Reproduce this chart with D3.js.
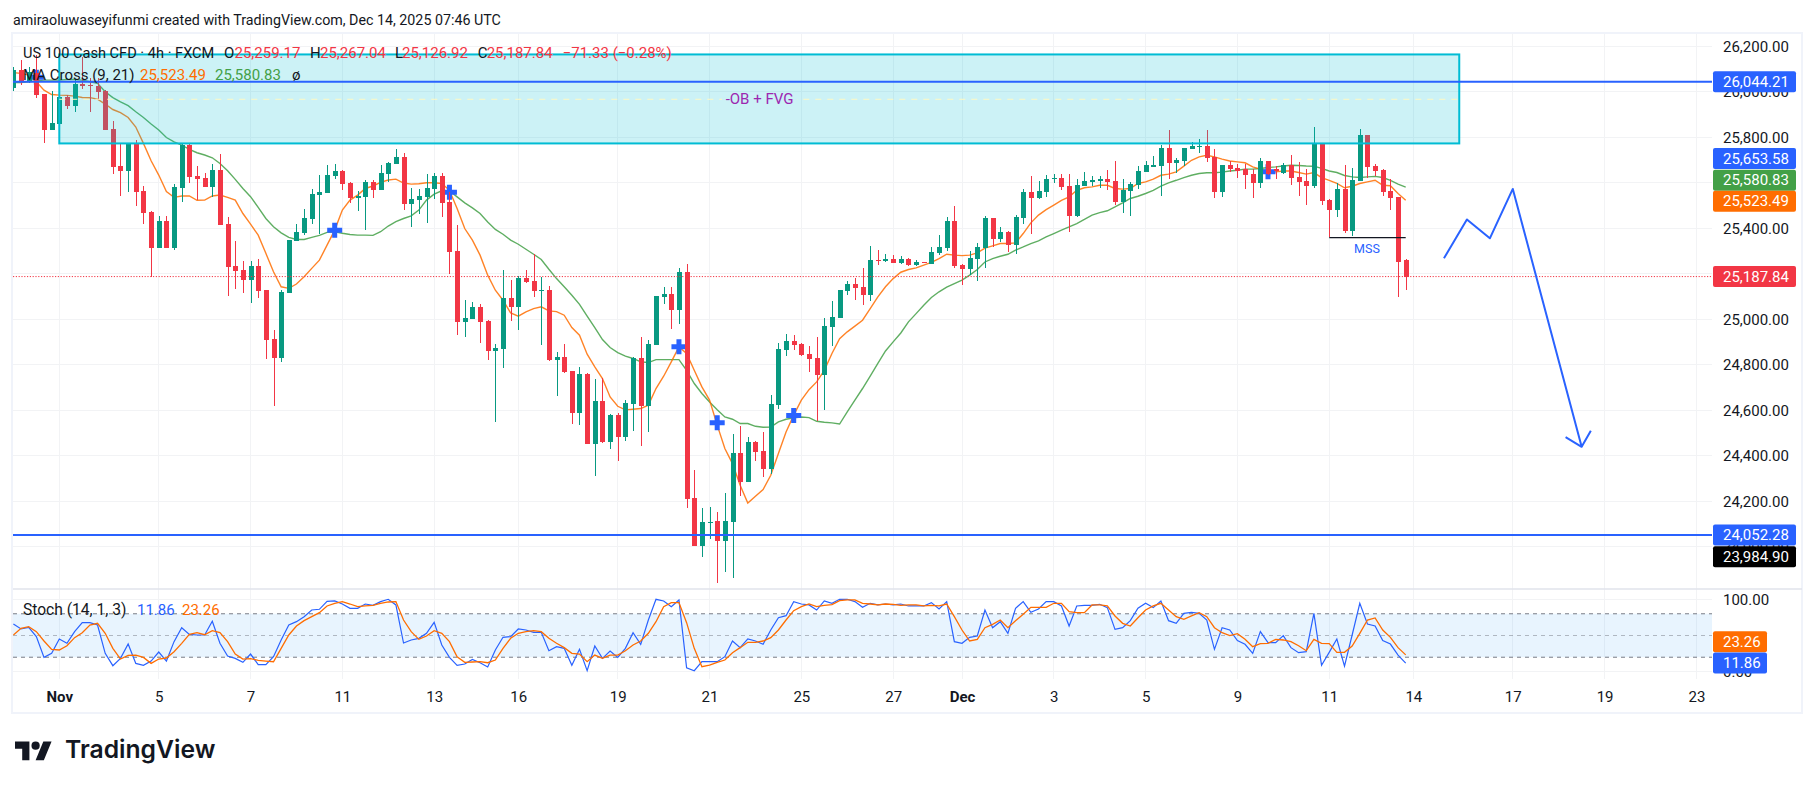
<!DOCTYPE html>
<html>
<head>
<meta charset="utf-8">
<script src="https://cdn.jsdelivr.net/npm/d3@7"></script>
<style>
  html, body { margin: 0; padding: 0; background: #fff; }
  svg { display: block; }
  text { font-family: Roboto, sans-serif; }
</style>
</head>
<body>
<svg id="chart" width="1815" height="789"></svg>
<script>
// candles run from bar -6 up to bar 176, bar 0 is the Nov tick
const firstBar = -6;

const opens = [26015,26095,26044,26081,25990,25832,
  25858,25975,25937,26034,26029,26025,26003,25836,25675,25651,
  25773,25564,25471,25314,25432,25314,25578,25764,25629,25621,
  25581,25656,25418,25234,25216,25175,25234,25128,24913,24830,
  25115,25344,25379,25441,25547,25556,25631,25651,25599,25534,
  25537,25603,25568,25638,25682,25713,25506,25524,25537,25572,
  25629,25515,25299,24989,25000,25053,24992,24860,24869,25093,
  25053,25181,25168,25125,25128,24820,24833,24772,24589,24759,
  24453,24640,24461,24579,24483,24627,24829,24618,24886,25097,
  25110,25040,25207,24214,24003,24108,24113,24025,24108,24412,
  24284,24460,24420,24341,24623,24864,24904,24891,24847,24829,
  24754,24965,25005,25124,25154,25141,25106,25260,25255,25264,
  25247,25264,25238,25251,25242,25291,25313,25431,25238,25220,
  25264,25313,25444,25352,25383,25326,25444,25559,25532,25559,
  25617,25620,25585,25453,25585,25603,25607,25616,25607,25515,
  25563,25589,25647,25671,25673,25752,25686,25695,25748,25758,
  25761,25712,25559,25677,25664,25660,25638,25598,25695,25660,
  25642,25677,25625,25607,25585,25774,25523,25480,25572,25387,
  25607,25809,25673,25655,25563,25537,25259.17];

const highs = [26110,26139,26110,26161,25990,26005,
  25985,25985,26051,26154,26059,26059,26007,25873,25773,25776,
  25788,25586,25477,25454,25454,25594,25773,25776,25675,25641,
  25682,25726,25448,25344,25256,25256,25263,25128,24953,25128,
  25348,25418,25483,25571,25634,25678,25682,25656,25603,25564,
  25612,25612,25678,25691,25748,25729,25575,25572,25638,25643,
  25643,25561,25414,25084,25075,25066,24996,24891,25216,25172,
  25189,25216,25289,25184,25145,24855,24891,24772,24790,24766,
  24737,24741,24583,24589,24645,24835,24921,24908,25102,25141,
  25141,25225,25242,24337,24170,24174,24152,24236,24495,24530,
  24482,24464,24504,24666,24895,24935,24930,24895,24882,24921,
  25005,25080,25128,25168,25181,25225,25321,25304,25286,25282,
  25277,25269,25260,25252,25317,25370,25449,25497,25242,25299,
  25335,25453,25444,25405,25387,25458,25572,25629,25607,25633,
  25638,25638,25638,25616,25647,25629,25629,25655,25695,25616,
  25603,25673,25695,25717,25765,25831,25708,25752,25778,25792,
  25831,25748,25677,25695,25682,25682,25660,25708,25695,25673,
  25686,25721,25691,25660,25844,25774,25528,25598,25677,25664,
  25836,25809,25682,25660,25616,25537,25267.04];

const lows = [26005,26029,26037,25971,25776,25832,
  25858,25925,25912,26010,25912,25963,25832,25638,25543,25561,
  25498,25418,25187,25314,25314,25304,25517,25600,25524,25580,
  25539,25416,25104,25134,25114,25073,25095,24825,24619,24812,
  25115,25344,25370,25418,25373,25556,25616,25568,25509,25476,
  25392,25533,25568,25602,25682,25480,25405,25462,25423,25528,
  25449,25199,24930,24923,25000,24896,24820,24548,24787,24992,
  24952,25159,25099,24886,24816,24662,24763,24539,24535,24453,
  24312,24455,24429,24376,24466,24508,24444,24505,24886,25066,
  24957,24978,24171,24003,23954,24034,23840,23889,23862,24223,
  24284,24376,24306,24319,24605,24838,24864,24838,24768,24552,
  24601,24882,25005,25106,25084,25062,25080,25238,25251,25247,
  25242,25233,25233,25246,25242,25282,25299,25225,25150,25194,
  25168,25225,25317,25339,25295,25286,25418,25374,25528,25537,
  25598,25567,25383,25449,25585,25585,25576,25567,25502,25466,
  25453,25572,25647,25669,25541,25616,25642,25673,25748,25730,
  25691,25532,25537,25647,25620,25572,25532,25576,25633,25616,
  25638,25589,25541,25502,25576,25502,25361,25449,25378,25365,
  25607,25620,25629,25541,25480,25097,25126.92];

const closes = [26095,26044,26088,25985,25832,25861,
  25975,25937,26034,26025,26026,26000,25832,25671,25651,25773,
  25561,25468,25314,25432,25314,25581,25767,25625,25618,25581,
  25656,25416,25231,25212,25175,25234,25124,24909,24830,25120,
  25348,25382,25445,25550,25559,25634,25651,25594,25531,25542,
  25603,25568,25643,25687,25713,25506,25528,25542,25577,25629,
  25511,25295,24989,25005,25053,24989,24860,24873,25093,25053,
  25181,25163,25124,25128,24820,24833,24768,24589,24759,24453,
  24640,24461,24579,24483,24631,24829,24618,24891,25102,25110,
  25040,25207,24209,24003,24108,24111,24025,24113,24412,24284,
  24460,24416,24341,24627,24869,24904,24886,24842,24825,24754,
  24970,25009,25128,25154,25137,25106,25260,25257,25263,25247,
  25264,25238,25251,25248,25295,25317,25431,25233,25220,25269,
  25317,25444,25352,25383,25326,25449,25559,25532,25563,25616,
  25620,25581,25453,25589,25607,25611,25616,25603,25515,25567,
  25594,25651,25677,25676,25752,25686,25699,25752,25761,25761,
  25708,25559,25677,25660,25651,25633,25598,25695,25638,25650,
  25677,25620,25603,25585,25774,25519,25480,25572,25387,25611,
  25809,25669,25651,25559,25532,25251,25187.84];

// MA Cross (9, 21)
const maFast = [26084,26081,26073,26044,26007,25988,
  25985,25984,25981,25975,25974,25968,25946,25922,25908,25887,
  25845,25773,25697,25634,25561,25536,25542,25542,25523,25524,
  25542,25546,25536,25524,25465,25418,25370,25290,25209,25143,
  25136,25155,25187,25224,25260,25326,25392,25480,25524,25546,
  25575,25586,25602,25612,25616,25599,25594,25596,25600,25600,
  25597,25567,25487,25399,25348,25282,25194,25128,25084,25028,
  25014,25033,25047,25055,25037,25034,25018,24964,24930,24847,
  24791,24740,24659,24618,24602,24605,24608,24623,24696,24750,
  24813,24879,24850,24776,24703,24645,24535,24432,24366,24271,
  24193,24223,24252,24315,24410,24505,24579,24645,24691,24725,
  24776,24850,24915,24945,24970,24996,25047,25099,25143,25179,
  25207,25219,25226,25238,25250,25267,25286,25282,25280,25282,
  25292,25313,25323,25333,25333,25336,25377,25424,25458,25482,
  25502,25523,25538,25567,25578,25582,25589,25589,25575,25572,
  25575,25597,25604,25616,25633,25638,25648,25673,25699,25714,
  25721,25714,25704,25696,25692,25688,25670,25660,25652,25648,
  25652,25652,25645,25638,25645,25623,25611,25597,25578,25585,
  25597,25604,25611,25589,25587,25553,25523.49];

const maSlow = [26040,26041,26044,26048,26051,26051,
  26051,26054,26054,26051,26044,26037,26000,25974,25956,25939,
  25912,25887,25858,25832,25799,25780,25766,25747,25732,25722,
  25710,25685,25653,25615,25575,25539,25492,25443,25407,25380,
  25360,25351,25351,25360,25369,25382,25385,25378,25373,25370,
  25370,25369,25385,25410,25429,25443,25455,25480,25524,25550,
  25565,25565,25538,25512,25490,25465,25428,25395,25374,25348,
  25330,25308,25286,25263,25220,25179,25143,25106,25066,25014,
  24964,24911,24876,24854,24838,24828,24813,24810,24823,24823,
  24823,24823,24776,24718,24674,24637,24603,24571,24561,24542,
  24542,24530,24526,24527,24549,24561,24567,24571,24568,24552,
  24548,24545,24540,24593,24645,24696,24750,24806,24861,24901,
  24940,24989,25025,25062,25096,25121,25141,25157,25172,25194,
  25219,25252,25267,25277,25286,25304,25318,25333,25345,25362,
  25377,25392,25406,25421,25439,25458,25469,25477,25494,25512,
  25531,25541,25553,25567,25585,25600,25611,25623,25633,25641,
  25644,25644,25647,25652,25655,25660,25660,25663,25667,25670,
  25674,25677,25676,25674,25673,25663,25652,25645,25632,25626,
  25623,25626,25628,25623,25611,25594,25580.83];

// Stoch (14, 1, 3)
const stochK = [65.9,59.0,61.3,48.4,19.8,25.3,
  45.2,39.2,55.3,67.7,67.7,64.5,25.3,8.3,18.4,38.2,
  11.5,8.8,14.7,27.2,14.7,41.5,60.8,51.6,50.7,50.7,
  69.6,39.2,21.7,18.4,12.9,24.4,9.7,9.7,20.7,43.8,
  64.5,69.1,76.0,85.2,86.2,97.2,97.7,93.5,87.6,87.6,
  93.5,91.7,96.8,100,92.2,39.6,43.8,46.1,53.0,68.2,
  36.9,19.8,8.8,10.6,17.0,12.4,6.5,30.0,47.5,48.4,
  59.0,57.6,54.4,54.4,29.0,34.6,32.3,8.8,30.9,1.4,
  35.5,18.4,28.6,19.8,32.3,53.9,37.8,71.4,100,97.7,
  89.9,99.0,5.5,1.4,13.8,13.8,13.8,20.7,42.4,33.2,
  45.2,42.4,37.8,57.6,74.6,77.4,96.8,93.5,92.2,85.2,
  97.7,94.5,100,100,96.8,88.9,94.5,92.2,93.5,92.2,
  93.5,90.8,90.8,90.8,95.4,86.6,96.8,41.5,39.2,47.5,
  49.3,85.2,60.8,69.1,53.0,87.6,96.8,82.0,86.6,96.8,
  96.8,90.8,63.1,90.8,91.7,91.7,93.1,88.5,58.5,60.8,
  70.5,87.6,94.5,88.5,97.7,70.5,66.8,80.6,82.0,80.6,
  71.4,30.9,60.8,57.6,42.9,37.8,25.3,55.3,40.1,40.1,
  49.8,33.2,26.3,27.6,80.6,8.8,26.7,45.2,7.8,50.7,
  94.5,65.9,63.1,42.9,38.2,23.0,11.86];

const stochD = [50.7,59.9,62.2,55.3,42.4,30.9,
  30.0,35.9,47.0,53.9,64.5,66.8,53.0,32.3,17.5,22.6,
  23.0,19.8,11.5,17.5,18.9,27.6,39.2,51.6,53.9,51.1,
  56.7,53.9,41.5,24.4,17.5,18.0,15.7,14.7,13.8,32.3,
  50.7,63.1,70.5,76.0,81.6,90.8,94.5,96.8,93.5,89.9,
  90.8,91.7,94.5,96.3,96.8,71.4,55.3,44.7,49.3,56.7,
  53.0,41.5,20.7,12.9,13.4,13.8,12.4,16.1,32.3,46.1,
  53.0,55.3,56.7,55.3,46.1,39.2,33.2,25.3,24.4,13.8,
  23.0,18.4,23.0,23.0,29.0,36.9,42.4,53.0,69.1,89.9,
  95.4,95.4,67.7,32.3,6.9,9.2,12.9,16.1,26.3,33.2,
  40.6,40.6,42.4,47.0,57.6,71.4,84.3,89.9,93.5,89.9,
  91.7,92.6,98.2,99.1,99.1,94.5,93.5,92.2,93.5,93.1,
  91.7,92.2,92.2,90.8,91.7,90.8,93.5,76.0,57.6,42.4,
  44.7,60.8,65.4,71.4,60.8,70.5,79.3,88.9,88.9,88.9,
  94.5,94.5,82.9,81.6,81.6,92.2,92.2,90.8,77.0,66.8,
  63.1,74.6,85.2,90.8,94.5,85.2,76.0,72.3,77.0,81.6,
  76.0,60.8,53.9,49.8,52.5,44.7,34.6,38.7,39.2,44.7,
  43.8,41.5,35.9,29.0,44.7,39.2,38.7,26.7,26.7,35.5,
  53.0,71.4,74.2,57.6,47.5,33.2,23.26];

// axis ticks
const priceTicks = [26200,26000,25800,25600,25400,25200,25000,24800,24600,24400,24200,24000];
const stochTicks = [100,0];
const dateTickBars = [0,13,25,37,49,60,73,85,97,109,118,130,142,154,166,177,190,202,214];
const dateTickLabels = ["Nov","5","7","11","13","16","19","21","25","27","Dec","3","5","9","11","14","17","19","23"];

// drawings
const zoneBars = [0, 183];
const zonePrices = [26164, 25773];
const zoneMid = 25967;
const levels = [26044.21, 24052.28];
const lastClose = 25187.84;
const crossBars = [-3, 36, 51, 81, 86, 96, 158];
const crossPrices = [26064, 25391, 25558, 24880, 24546, 24577, 25648];
const mssBars = [166, 176];
const mssPrice = 25359;
const forecastBars = [181, 184, 187, 190, 199];
const forecastPrices = [25268, 25439, 25356, 25573, 24440];
const arrowBars = [196.9, 199, 200.2];
const arrowPrices = [24482, 24440, 24510];

const bars = d3.range(opens.length).map(i => i + firstBar);

const svg = d3.select("#chart");
const left = 13, right = 1712, frameRight = 1802;
const paneTop = 34, paneBottom = 589, frameBottom = 713;

const x = d3.scaleLinear().domain([-6, 216]).range([13.4, 1711.7]);
const y = d3.scaleLinear().domain([26044.21, 24052.28]).range([81.7, 535]);
const yStoch = d3.scaleLinear().domain([0, 100]).range([671.7, 599.3]);

const upColor = "#089981", downColor = "#f23645", blue = "#2962ff";
const orange = "#ff6d00", green = "#43a047", gridColor = "#f2f3f5", ink = "#131722";

const defs = svg.append("defs");
defs.append("clipPath").attr("id", "mainClip").append("rect")
  .attr("x", left).attr("y", paneTop).attr("width", right - left).attr("height", paneBottom - paneTop);
defs.append("clipPath").attr("id", "stochClip").append("rect")
  .attr("x", left).attr("y", paneBottom).attr("width", right - left).attr("height", 88);

// grid
const grid = svg.append("g").attr("shape-rendering", "crispEdges");
grid.selectAll(".vgrid").data(dateTickBars).enter().append("line")
  .attr("x1", d => x(d)).attr("x2", d => x(d))
  .attr("y1", paneTop).attr("y2", 679)
  .attr("stroke", gridColor);
grid.selectAll(".hgrid").data(priceTicks).enter().append("line")
  .attr("x1", left).attr("x2", right)
  .attr("y1", d => y(d)).attr("y2", d => y(d))
  .attr("stroke", gridColor);
grid.selectAll(".sgrid").data(stochTicks).enter().append("line")
  .attr("x1", left).attr("x2", right)
  .attr("y1", d => yStoch(d)).attr("y2", d => yStoch(d))
  .attr("stroke", gridColor);

const main = svg.append("g").attr("clip-path", "url(#mainClip)");

// crosses and MAs sit under the candles
const lineFor = (scale) => d3.line().x((d, i) => x(bars[i])).y(d => scale(d));
main.append("path").datum(maSlow).attr("d", lineFor(y))
  .attr("fill", "none").attr("stroke", green).attr("stroke-width", 1.4).attr("opacity", 0.85);
main.append("path").datum(maFast).attr("d", lineFor(y))
  .attr("fill", "none").attr("stroke", orange).attr("stroke-width", 1.4).attr("opacity", 0.85);

main.selectAll(".cross").data(crossBars).enter().append("path")
  .attr("d", d3.symbol().type(d3.symbolCross).size(125))
  .attr("transform", (d, i) => `translate(${x(d)},${y(crossPrices[i])})`)
  .attr("fill", blue);

// candles
const candles = main.append("g").attr("shape-rendering", "crispEdges");
candles.selectAll(".wick").data(bars).enter().append("rect")
  .attr("x", d => Math.round(x(d)))
  .attr("width", 1)
  .attr("y", (d, i) => y(highs[i]))
  .attr("height", (d, i) => Math.max(1, y(lows[i]) - y(highs[i])))
  .attr("fill", (d, i) => closes[i] < opens[i] ? downColor : upColor);
candles.selectAll(".body").data(bars).enter().append("rect")
  .attr("x", d => Math.round(x(d)) - 2)
  .attr("width", 5)
  .attr("y", (d, i) => y(Math.max(opens[i], closes[i])))
  .attr("height", (d, i) => Math.max(1, Math.abs(y(opens[i]) - y(closes[i]))))
  .attr("fill", (d, i) => closes[i] < opens[i] ? downColor : upColor);

// price line of the last close
main.append("line")
  .attr("x1", left).attr("x2", right)
  .attr("y1", y(lastClose)).attr("y2", y(lastClose))
  .attr("stroke", downColor).attr("stroke-dasharray", "1.2 1.6");

// supply zone
svg.append("rect")
  .attr("x", x(zoneBars[0])).attr("width", x(zoneBars[1]) - x(zoneBars[0]))
  .attr("y", y(zonePrices[0])).attr("height", y(zonePrices[1]) - y(zonePrices[0]))
  .attr("fill", "rgba(0,188,212,0.2)")
  .attr("stroke", "#00bcd4").attr("stroke-width", 2);
svg.append("line")
  .attr("x1", x(zoneBars[0])).attr("x2", x(zoneBars[1]))
  .attr("y1", y(zoneMid)).attr("y2", y(zoneMid))
  .attr("stroke", "#fff9c4").attr("stroke-dasharray", "6 6");
svg.append("rect") // gap behind the label on the mid line
  .attr("x", 722).attr("width", 75).attr("y", y(zoneMid) - 2).attr("height", 4)
  .attr("fill", "#ccf2f6");
svg.append("text").attr("x", 759.5).attr("y", y(zoneMid) + 5)
  .attr("text-anchor", "middle").attr("fill", "#9c27b0").style("font-size", "15px")
  .text("-OB + FVG");

// horizontal levels
svg.selectAll(".level").data(levels).enter().append("line")
  .attr("x1", left).attr("x2", right)
  .attr("y1", d => y(d)).attr("y2", d => y(d))
  .attr("stroke", blue).attr("stroke-width", 2);

// MSS
svg.append("line")
  .attr("x1", x(mssBars[0])).attr("x2", x(mssBars[1]))
  .attr("y1", y(mssPrice)).attr("y2", y(mssPrice))
  .attr("stroke", ink).attr("stroke-width", 1.2);
svg.append("text").attr("x", 1367).attr("y", y(mssPrice) + 15)
  .attr("text-anchor", "middle").attr("fill", blue).style("font-size", "12.5px").text("MSS");

// forecast path with arrow head
const polyLine = d3.line().x(d => x(d[0])).y(d => y(d[1]));
svg.append("path").datum(d3.zip(forecastBars, forecastPrices)).attr("d", polyLine)
  .attr("fill", "none").attr("stroke", blue).attr("stroke-width", 2).attr("stroke-linejoin", "round");
svg.append("path").datum(d3.zip(arrowBars, arrowPrices)).attr("d", polyLine)
  .attr("fill", "none").attr("stroke", blue).attr("stroke-width", 2).attr("stroke-linejoin", "round");

// stochastic pane
const stochPane = svg.append("g").attr("clip-path", "url(#stochClip)");
stochPane.append("rect")
  .attr("x", left).attr("width", right - left)
  .attr("y", yStoch(80)).attr("height", yStoch(20) - yStoch(80))
  .attr("fill", "rgba(33,150,243,0.1)");
stochPane.selectAll(".band").data([80, 50, 20]).enter().append("line")
  .attr("x1", left).attr("x2", right)
  .attr("y1", d => yStoch(d)).attr("y2", d => yStoch(d))
  .attr("stroke", "#787b86").attr("stroke-dasharray", "4 4")
  .attr("opacity", d => d === 50 ? 0.5 : 1);
stochPane.append("path").datum(stochK).attr("d", lineFor(yStoch))
  .attr("fill", "none").attr("stroke", blue).attr("stroke-width", 1.2);
stochPane.append("path").datum(stochD).attr("d", lineFor(yStoch))
  .attr("fill", "none").attr("stroke", orange).attr("stroke-width", 1.3);

// frame
svg.append("rect")
  .attr("x", left - 1).attr("y", paneTop - 1)
  .attr("width", frameRight - left + 1).attr("height", frameBottom - paneTop + 1)
  .attr("fill", "none").attr("stroke", "#f0f3fa").attr("stroke-width", 2);
svg.append("line").attr("x1", left).attr("x2", frameRight)
  .attr("y1", paneBottom).attr("y2", paneBottom)
  .attr("stroke", "#e0e3eb").attr("stroke-width", 1.5);

// axes
const styleAxis = (g) => {
  g.select(".domain").remove();
  g.selectAll("text").attr("fill", ink).style("font-size", "15px").style("font-family", "Roboto, sans-serif");
};
svg.append("g").attr("transform", `translate(${right + 11},0)`)
  .call(d3.axisRight(y).tickValues(priceTicks).tickFormat(d3.format(",.2f")).tickSize(0).tickPadding(0))
  .call(styleAxis);
svg.append("g").attr("transform", `translate(${right + 11},0)`)
  .call(d3.axisRight(yStoch).tickValues(stochTicks).tickFormat(d3.format(".2f")).tickSize(0).tickPadding(0))
  .call(styleAxis);
const dateAxis = svg.append("g").attr("transform", "translate(0,691)")
  .call(d3.axisBottom(x).tickValues(dateTickBars).tickFormat((d, i) => dateTickLabels[i]).tickSize(0).tickPadding(0))
  .call(styleAxis);
dateAxis.selectAll("text").style("font-weight", (d, i) => /[A-Z]/.test(dateTickLabels[i]) ? 700 : 400);

// price labels, some pushed off their value so they do not overlap
const tagValues = [26044.21, 25653.58, 25580.83, 25523.49, 25187.84, 24052.28, 23984.90];
const tagColors = [blue, blue, green, orange, downColor, blue, "#000000"];
const tagNudge = [0, -12, -7, 1, 0, 0, 6.4];
const tags = svg.append("g");
tagValues.forEach((v, i) => {
  const cy = y(v) + tagNudge[i];
  tags.append("rect").attr("x", right + 1).attr("y", cy - 10.5).attr("width", 83).attr("height", 21)
    .attr("rx", 2).attr("fill", tagColors[i]);
  tags.append("text").attr("x", right + 11).attr("y", cy + 5.2)
    .attr("fill", "#fff").style("font-size", "15px").text(d3.format(",.2f")(v));
});
const stochTagValues = [23.26, 11.86];
const stochTagColors = [orange, blue];
const stochTagNudge = [-13.2, 0];
stochTagValues.forEach((v, i) => {
  const cy = yStoch(v) + stochTagNudge[i];
  tags.append("rect").attr("x", right + 1).attr("y", cy - 10.5).attr("width", 54).attr("height", 21)
    .attr("rx", 2).attr("fill", stochTagColors[i]);
  tags.append("text").attr("x", right + 11).attr("y", cy + 5.2)
    .attr("fill", "#fff").style("font-size", "15px").text(v.toFixed(2));
});

// header and legends
const label = (tx, ty, str, color, size) => svg.append("text")
  .attr("x", tx).attr("y", ty).attr("fill", color).style("font-size", (size || 15) + "px").text(str);

label(13, 25, "amiraoluwaseyifunmi created with TradingView.com, Dec 14, 2025 07:46 UTC", ink, 14.25);
label(23, 58, "US 100 Cash CFD · 4h · FXCM", ink, 14.6);
label(224, 58, "O", ink); label(234.5, 58, "25,259.17", downColor);
label(310, 58, "H", ink); label(320, 58, "25,267.04", downColor);
label(395, 58, "L", ink); label(402, 58, "25,126.92", downColor);
label(477.7, 58, "C", ink); label(486.7, 58, "25,187.84", downColor);
label(562.7, 58, "−71.33 (−0.28%)", downColor);
label(23, 80, "MA Cross (9, 21)", ink);
label(140, 80, "25,523.49", orange);
label(215, 80, "25,580.83", green);
label(292, 80, "ø", ink);
label(23, 615, "Stoch (14, 1, 3)", ink, 15.6);
label(137, 615, "11.86", blue);
label(182, 615, "23.26", orange);

// logo
const logo = svg.append("g").attr("transform", "translate(15,737.5) scale(1.03)").attr("fill", "#131722");
logo.append("path").attr("d", "M14 22H7V11H0V4h14v18zM28 22h-8l7.5-18h8L28 22z");
logo.append("circle").attr("cx", 20).attr("cy", 8).attr("r", 4);
svg.append("text").attr("x", 65).attr("y", 758).attr("fill", "#131722")
  .style("font-family", "Inter, sans-serif").style("font-weight", 600).style("font-size", "24.7px")
  .text("TradingView");
</script>
</body>
</html>
